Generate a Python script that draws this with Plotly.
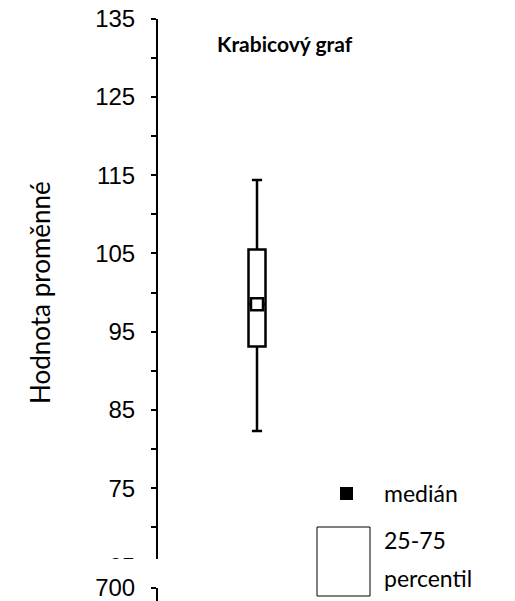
import plotly.graph_objects as go

# ---- data ----
categories = [0]
q1 = [93.1]
median = [98.5]
q3 = [105.5]
lower_whisker = [82.3]
upper_whisker = [114.4]

main_ticks = [65, 75, 85, 95, 105, 115, 125, 135]
main_ticktext = ["65", "75", "85", "95", "105", "115", "125", "135"]
lower_ticks = [700]
lower_ticktext = ["700"]

title_text = "Krabicový graf"
y_title = "Hodnota proměnné"
legend_labels = ["medián", "25-75", "percentil"]

W, H = 515, 601


def py(px):
    return 1 - px / H


def pxx(px):
    return px / W


fig = go.Figure()

fig.add_trace(go.Box(
    x=categories, q1=q1, median=median, q3=q3,
    lowerfence=lower_whisker, upperfence=upper_whisker,
    width=0.085, whiskerwidth=0.6,
    fillcolor="white", line=dict(color="black", width=2.5),
    boxpoints=False, hoverinfo="skip", showlegend=False,
    xaxis="x", yaxis="y",
))
fig.add_trace(go.Scatter(
    x=categories, y=median, mode="markers",
    marker=dict(symbol="square", size=12, color="white",
                line=dict(color="black", width=2.5)),
    showlegend=False, hoverinfo="skip", xaxis="x", yaxis="y",
))
# dummy trace for the lower (broken) axis
fig.add_trace(go.Scatter(
    x=[None], y=[None], mode="markers", showlegend=False,
    xaxis="x2", yaxis="y2",
))

tickfont = dict(family="Liberation Sans, Arial, sans-serif", size=24, color="black")

fig.update_layout(
    width=W, height=H,
    margin=dict(l=0, r=0, t=0, b=0, pad=0, autoexpand=False),
    paper_bgcolor="white", plot_bgcolor="rgba(0,0,0,0)",
    showlegend=False,
    xaxis=dict(domain=[pxx(157), pxx(357)], range=[-0.5, 0.5],
               visible=False, anchor="y"),
    yaxis=dict(domain=[py(566.5), py(18.7)], range=[65, 135],
               anchor="free", position=pxx(157), automargin=False,
               showline=True, linecolor="black", linewidth=2,
               showgrid=False, zeroline=False,
               tickmode="array", tickvals=main_ticks, ticktext=main_ticktext,
               ticks="outside", ticklen=5, tickwidth=2, tickcolor="black",
               ticklabelstandoff=11, ticklabeloverflow="allow",
               minor=dict(dtick=5, ticks="outside", ticklen=5, tickwidth=2,
                          tickcolor="black", showgrid=False),
               tickfont=tickfont,
               title=dict(text=y_title,
                          font=dict(family="Lato, sans-serif", size=26, color="black"),
                          standoff=36)),
    xaxis2=dict(domain=[pxx(157), pxx(357)], range=[-0.5, 0.5],
                visible=False, anchor="y2"),
    yaxis2=dict(domain=[0, py(588)], range=[690, 700],
                anchor="free", position=pxx(157), automargin=False,
                showline=True, linecolor="black", linewidth=2,
                showgrid=False, zeroline=False,
                tickmode="array", tickvals=lower_ticks, ticktext=lower_ticktext,
                ticks="outside", ticklen=5, tickwidth=2, tickcolor="black",
                ticklabelstandoff=11, ticklabeloverflow="allow",
                tickfont=tickfont),
)

# white mask hiding the bottom of the main axis (broken look)
fig.add_shape(type="rect", xref="paper", yref="paper",
              x0=pxx(70), x1=pxx(165), y0=py(575), y1=py(559),
              fillcolor="white", line=dict(width=0), layer="above")

# title
fig.add_annotation(text="<b>" + title_text + "</b>", xref="paper", yref="paper",
                   x=pxx(285), y=py(43), xanchor="center", yanchor="middle",
                   showarrow=False,
                   font=dict(family="Lato, sans-serif", size=21, color="black"))

legend_font = dict(family="Lato, sans-serif", size=23, color="black")
# legend: median square
fig.add_shape(type="rect", xref="paper", yref="paper",
              x0=pxx(340), x1=pxx(353), y0=py(500), y1=py(487),
              fillcolor="black", line=dict(width=0))
fig.add_annotation(text=legend_labels[0], xref="paper", yref="paper",
                   x=pxx(382), y=py(493), xanchor="left", yanchor="middle",
                   showarrow=False, font=legend_font)
# legend: percentile rectangle
fig.add_shape(type="rect", xref="paper", yref="paper",
              x0=pxx(317), x1=pxx(370), y0=py(596), y1=py(527),
              fillcolor="white", line=dict(color="black", width=1))
fig.add_annotation(text=legend_labels[1], xref="paper", yref="paper",
                   x=pxx(382), y=py(540), xanchor="left", yanchor="middle",
                   showarrow=False, font=legend_font)
fig.add_annotation(text=legend_labels[2], xref="paper", yref="paper",
                   x=pxx(382), y=py(578), xanchor="left", yanchor="middle",
                   showarrow=False, font=legend_font)

fig.write_html("out.html", config={"displayModeBar": False},
               post_script="document.body.style.margin='0';")
